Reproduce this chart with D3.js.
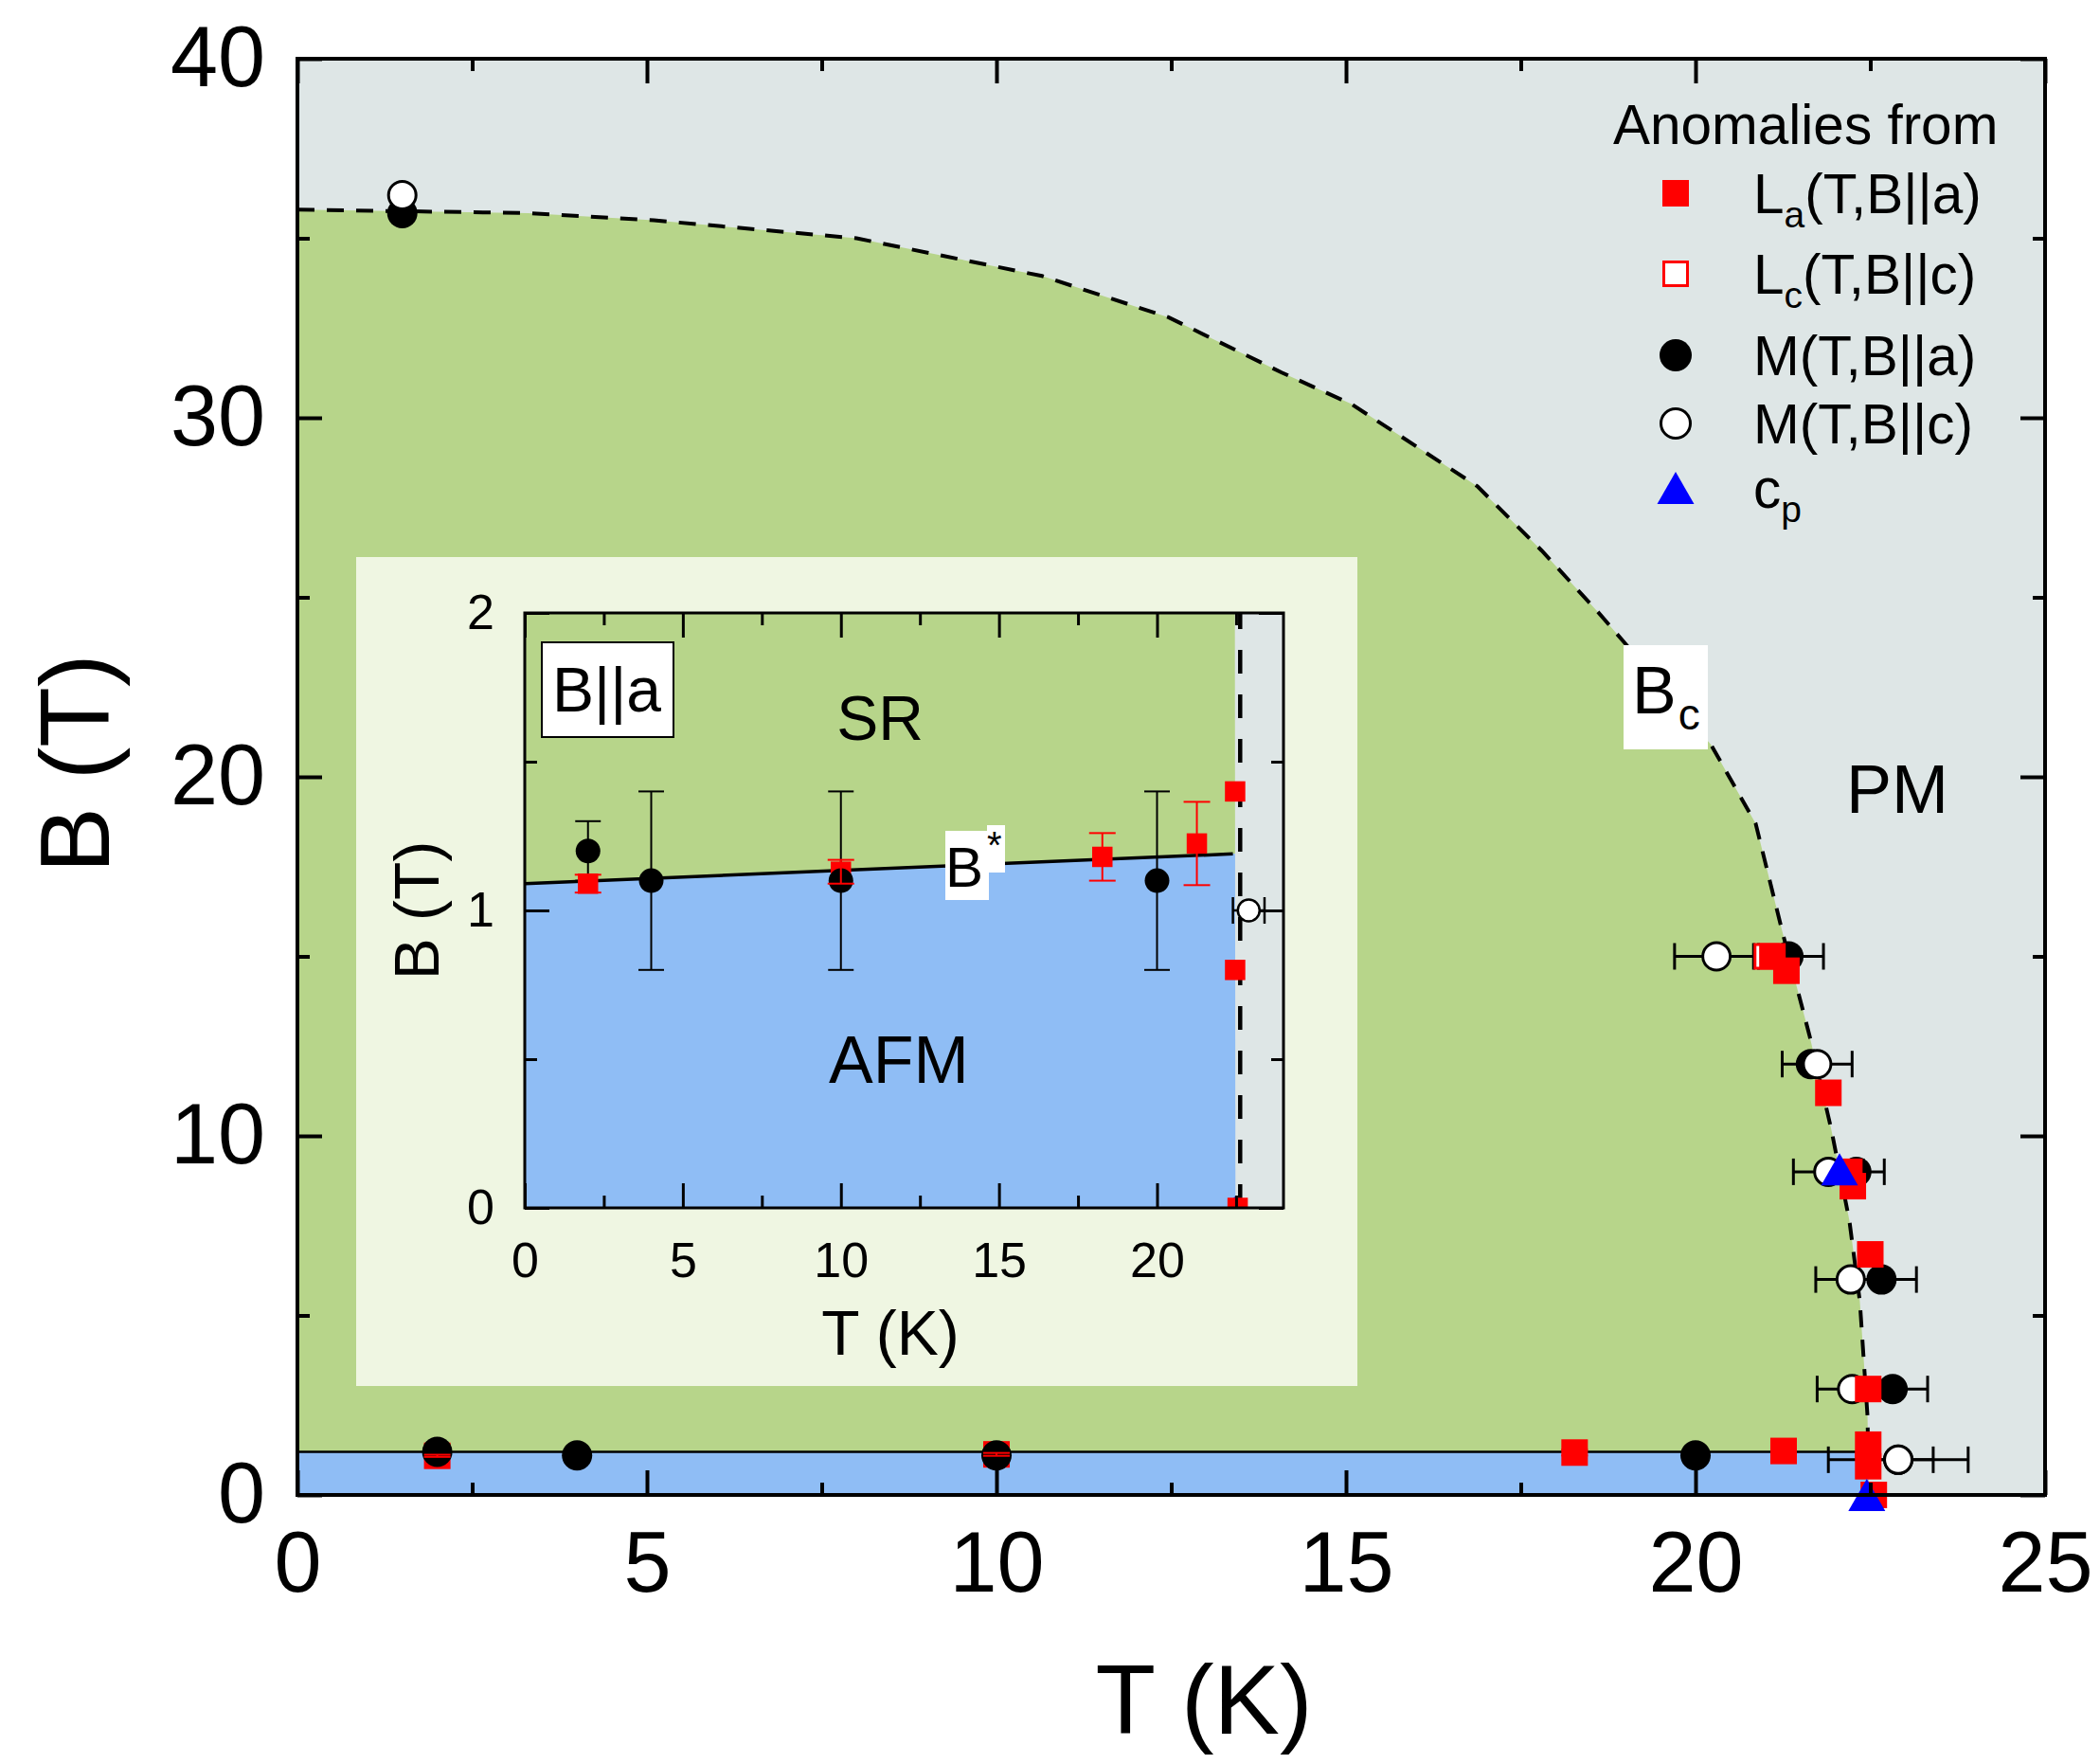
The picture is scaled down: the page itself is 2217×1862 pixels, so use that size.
<!DOCTYPE html>
<html><head><meta charset="utf-8">
<script src="https://cdn.jsdelivr.net/npm/d3@7"></script>
<style>body{margin:0;background:#fff}</style>
</head><body>
<svg id="c" width="2217" height="1862" xmlns="http://www.w3.org/2000/svg"></svg>
<script>
// ---------------- data ----------------
const bcCurve = [[0,35.8],[3.3,35.7],[5.1,35.5],[8,35.0],[10.65,33.95],[12.46,32.8],[14.08,31.26],[15.08,30.38],[16.88,28.09],[17.8,26.3],[18.6,24.6],[19.0,23.7],[20.22,20.9],[20.86,18.7],[21.24,15.7],[21.63,12.8],[21.94,10.2],[22.2,7.65],[22.35,5.4],[22.46,2.2],[22.48,0]];
const mainBstarLine = [[0,1.2],[22.45,1.2]];
const insetBstarLine = [[0,1.09],[22.4,1.19]];
const insetBcDash = [[22.63,0],[22.63,2]];
// low-field anomalies [T, B, yErr]
const lowLa = [[2,1.09,0.03],[10,1.13,0.04],[18.27,1.18,0.08],[21.26,1.225,0.14]];
const lowMa = [[2,1.2,0.1],[4,1.1,0.3],[10,1.1,0.3],[20,1.1,0.3]];
// high-field / Bc anomalies
const highLa = [[21.1,15.0],[21.3,14.6],[21.9,11.2],[22.2,9.0],[22.25,8.6],[22.5,6.7],[22.47,2.95],[22.47,1.4],[22.47,0.8],[22.55,0]];
const highLc = [[21.02,15.0]];
// [T, B, xErr]
const highMa = [[1.5,35.7,0],[21.33,15.0,0.5],[21.65,12.0,0],[22.3,9.0,0.4],[22.66,6.0,0.5],[22.82,2.95,0.5],[22.9,0.98,0.5]];
const highMc = [[1.5,36.2,0],[20.3,15.0,0.6],[21.74,12.0,0.5],[21.9,9.0,0.5],[22.22,6.0,0.5],[22.24,2.95,0.5],[22.9,0.98,1.0]];
const cpData = [[22.06,9.07],[22.45,0.0]];
const insetMc = [[22.9,1.0,0.5]];
// ticks
const mainXMajor = [0,5,10,15,20,25], mainXMinor = [2.5,7.5,12.5,17.5,22.5];
const mainYMajor = [0,10,20,30,40], mainYMinor = [5,15,25,35];
const insetXMajor = [0,5,10,15,20], insetXMinor = [2.5,7.5,12.5,17.5,22.5];
const insetYMajor = [0,1,2], insetYMinor = [0.5,1.5];
const legendItems = [
  {type:'sqFill', main:'L', sub:'a', rest:'(T,B||a)'},
  {type:'sqOpen', main:'L', sub:'c', rest:'(T,B||c)'},
  {type:'cFill', main:'M(T,B||a)', sub:'', rest:''},
  {type:'cOpen', main:'M(T,B||c)', sub:'', rest:''},
  {type:'tri', main:'c', sub:'p', rest:''}
];

// ---------------- style ----------------
const FONT = '"Liberation Sans", Arial, Helvetica, sans-serif';
const C = {grey:'#dee6e6', green:'#b7d58a', blue:'#8fbdf5', insetBg:'#eff6e2', red:'#ff0000', triBlue:'#0000ff'};

const svg = d3.select('#c');
const x = d3.scaleLinear().domain([0,25]).range([314,2159]);
const y = d3.scaleLinear().domain([0,40]).range([1578,62]);
const xi = d3.scaleLinear().domain([0,24]).range([554,1355]);
const yi = d3.scaleLinear().domain([0,2]).range([1275,647]);

function tcAt(B){
  for (let i=0;i<bcCurve.length-1;i++){
    const [t0,b0]=bcCurve[i],[t1,b1]=bcCurve[i+1];
    if (B<=b0 && B>=b1) return t0+(t1-t0)*(B-b0)/(b1-b0);
  }
  return bcCurve[bcCurve.length-1][0];
}

function marker(g, type, cx, cy, s){
  if (type==='sqFill') g.append('rect').attr('x',cx-s.sq/2).attr('y',cy-s.sq/2).attr('width',s.sq).attr('height',s.sq).attr('fill',C.red);
  else if (type==='sqOpen') g.append('rect').attr('x',cx-s.sq/2+1.5).attr('y',cy-s.sq/2+1.5).attr('width',s.sq-3).attr('height',s.sq-3).attr('fill','#fff').attr('stroke',C.red).attr('stroke-width',3);
  else if (type==='cFill') g.append('circle').attr('cx',cx).attr('cy',cy).attr('r',s.r).attr('fill','#000');
  else if (type==='cOpen') g.append('circle').attr('cx',cx).attr('cy',cy).attr('r',s.r-1.5).attr('fill','#fff').attr('stroke','#000').attr('stroke-width',s.ow);
  else if (type==='tri') g.append('path').attr('d',`M${cx},${cy-s.th/2}L${cx-s.tw/2},${cy+s.th/2}L${cx+s.tw/2},${cy+s.th/2}Z`).attr('fill',C.triBlue);
}
function xErr(g, xs, ys, d, color, capLen, w){
  if (!d[2]) return;
  const cy=ys(d[1]), a=xs(d[0]-d[2]), b=xs(d[0]+d[2]);
  g.append('line').attr('x1',a).attr('x2',b).attr('y1',cy).attr('y2',cy).attr('stroke',color).attr('stroke-width',w);
  [a,b].forEach(v=>g.append('line').attr('x1',v).attr('x2',v).attr('y1',cy-capLen/2).attr('y2',cy+capLen/2).attr('stroke',color).attr('stroke-width',w));
}
function yErr(g, xs, ys, d, color, capLen, w){
  if (!d[2]) return;
  const cx=xs(d[0]), a=ys(d[1]-d[2]), b=ys(d[1]+d[2]);
  g.append('line').attr('x1',cx).attr('x2',cx).attr('y1',a).attr('y2',b).attr('stroke',color).attr('stroke-width',w);
  [a,b].forEach(v=>g.append('line').attr('y1',v).attr('y2',v).attr('x1',cx-capLen/2).attr('x2',cx+capLen/2).attr('stroke',color).attr('stroke-width',w));
}

function axes(g, xs, ys, o){
  const [x0,x1]=xs.range(), [y0,y1]=ys.range();
  const mk=(axis,tr,vals,len,fmt)=>{
    const a=g.append('g').attr('transform',tr).call(axis.tickValues(vals).tickSizeInner(-len).tickSizeOuter(0).tickFormat(fmt));
    a.select('.domain').remove();
    a.selectAll('line').attr('stroke','#000').attr('stroke-width',o.sw);
    return a;
  };
  const none=()=> '';
  const bx=mk(d3.axisBottom(xs),`translate(0,${y0})`,o.xMajor,o.major,d3.format('d'));
  bx.selectAll('text').attr('y',o.xLabelY).attr('dy',0).attr('font-size',o.fs).attr('font-family',FONT).attr('fill','#000');
  mk(d3.axisBottom(xs),`translate(0,${y0})`,o.xMinor,o.minor,none);
  mk(d3.axisTop(xs),`translate(0,${y1})`,o.xMajor,o.major,none);
  mk(d3.axisTop(xs),`translate(0,${y1})`,o.xMinor,o.minor,none);
  const ly=mk(d3.axisLeft(ys),`translate(${x0},0)`,o.yMajor,o.major,d3.format('d'));
  ly.selectAll('text').attr('x',o.yLabelX).attr('dy','0.32em').attr('font-size',o.fs).attr('font-family',FONT).attr('fill','#000');
  mk(d3.axisLeft(ys),`translate(${x0},0)`,o.yMinor,o.minor,none);
  mk(d3.axisRight(ys),`translate(${x1},0)`,o.yMajor,o.major,none);
  mk(d3.axisRight(ys),`translate(${x1},0)`,o.yMinor,o.minor,none);
  g.append('rect').attr('x',x0).attr('y',y1).attr('width',x1-x0).attr('height',y0-y1).attr('fill','none').attr('stroke','#000').attr('stroke-width',o.fw);
}

// ---------------- main regions ----------------
const lineM = d3.line().x(d=>x(d[0])).y(d=>y(d[1]));
svg.append('rect').attr('x',x(0)).attr('y',y(40)).attr('width',x(25)-x(0)).attr('height',y(0)-y(40)).attr('fill',C.grey);
svg.append('path').attr('d',lineM([...bcCurve,[0,0]])+'Z').attr('fill',C.green);
const bEnd = mainBstarLine[mainBstarLine.length-1];
svg.append('path').attr('d',lineM([[0,0],...mainBstarLine,[tcAt(bEnd[1]),bEnd[1]],bcCurve[bcCurve.length-1]])+'Z').attr('fill',C.blue);
svg.append('path').attr('d',lineM(mainBstarLine)).attr('fill','none').attr('stroke','#000').attr('stroke-width',2.5);
svg.append('path').attr('d',lineM(bcCurve)).attr('fill','none').attr('stroke','#000').attr('stroke-width',4).attr('stroke-dasharray','18,13');

// ---------------- inset ----------------
const gi = svg.append('g');
gi.append('rect').attr('x',376).attr('y',588).attr('width',1057).attr('height',875).attr('fill',C.insetBg);
svg.append('defs').append('clipPath').attr('id','clipI').append('rect').attr('x',xi(0)).attr('y',yi(2)).attr('width',xi(24)-xi(0)).attr('height',yi(0)-yi(2));
const gic = gi.append('g').attr('clip-path','url(#clipI)');
const lineI = d3.line().x(d=>xi(d[0])).y(d=>yi(d[1]));
gic.append('rect').attr('x',xi(0)).attr('y',yi(2)).attr('width',xi(24)-xi(0)).attr('height',yi(0)-yi(2)).attr('fill',C.grey);
const ibEnd = insetBstarLine[insetBstarLine.length-1];
gic.append('path').attr('d',lineI([[0,2],[tcAt(2),2],[tcAt(ibEnd[1]),ibEnd[1]],...insetBstarLine.slice().reverse()])+'Z').attr('fill',C.green);
gic.append('path').attr('d',lineI([...insetBstarLine,[tcAt(ibEnd[1]),ibEnd[1]],[tcAt(0),0],[0,0]])+'Z').attr('fill',C.blue);
gic.append('path').attr('d',lineI(insetBstarLine)).attr('fill','none').attr('stroke','#000').attr('stroke-width',3.5);
gic.append('path').attr('d',lineI(insetBcDash)).attr('fill','none').attr('stroke','#000').attr('stroke-width',4.5).attr('stroke-dasharray','25,22');
const sI = {sq:21.5, r:13, ow:2.5, tw:28, th:24};
lowMa.forEach(d=>yErr(gic,xi,yi,d,'#000',27,2));
lowLa.forEach(d=>marker(gic,'sqFill',xi(d[0]),yi(d[1]),sI));
lowMa.forEach(d=>marker(gic,'cFill',xi(d[0]),yi(d[1]),sI));
lowLa.forEach(d=>yErr(gic,xi,yi,d,C.red,28,2));
insetMc.forEach(d=>xErr(gic,xi,yi,d,'#000',28,2.5));
insetMc.forEach(d=>marker(gic,'cOpen',xi(d[0]),yi(d[1]),sI));
cpData.filter(d=>d[1]<=2).forEach(d=>marker(gic,'tri',xi(d[0]),yi(d[1]),sI));
highLa.filter(d=>d[1]<=2).forEach(d=>marker(gic,'sqFill',xi(d[0]),yi(d[1]),sI));
// inset labels
gi.append('rect').attr('x',572).attr('y',678).attr('width',139).attr('height',100).attr('fill','#fff').attr('stroke','#000').attr('stroke-width',2);
gi.append('text').attr('x',583).attr('y',751).attr('font-size',66).attr('font-family',FONT).text('B||a');
gi.append('text').attr('x',929).attr('y',781).attr('font-size',66).attr('font-family',FONT).attr('text-anchor','middle').text('SR');
gi.append('text').attr('x',949).attr('y',1143).attr('font-size',70).attr('font-family',FONT).attr('text-anchor','middle').text('AFM');
gi.append('rect').attr('x',998).attr('y',877).attr('width',46).attr('height',73).attr('fill','#fff');
gi.append('rect').attr('x',1042).attr('y',871).attr('width',19).attr('height',50).attr('fill','#fff');
gi.append('text').attr('x',998).attr('y',936).attr('font-size',60).attr('font-family',FONT).text('B');
gi.append('text').attr('x',1042).attr('y',906).attr('font-size',40).attr('font-family',FONT).text('*');
axes(gi, xi, yi, {xMajor:insetXMajor,xMinor:insetXMinor,yMajor:insetYMajor,yMinor:insetYMinor,major:26,minor:13,sw:3,fw:3,fs:52,xLabelY:73,yLabelX:-32});
gi.append('text').attr('x',940).attr('y',1430).attr('font-size',66).attr('font-family',FONT).attr('text-anchor','middle').text('T (K)');
gi.append('text').attr('transform','translate(463,961) rotate(-90)').attr('font-size',66).attr('font-family',FONT).attr('text-anchor','middle').text('B (T)');

// ---------------- main markers ----------------
const gm = svg.append('g');
const sM = {sq:28, r:16, ow:3, tw:39, th:34};
highMa.forEach(d=>xErr(gm,x,y,d,'#000',28,3));
highMc.forEach(d=>xErr(gm,x,y,d,'#000',28,3));
lowLa.forEach(d=>marker(gm,'sqFill',x(d[0]),y(d[1]),sM));
lowMa.forEach(d=>marker(gm,'cFill',x(d[0]),y(d[1]),sM));
lowLa.forEach(d=>yErr(gm,x,y,d,C.red,28,2));
highMa.forEach(d=>marker(gm,'cFill',x(d[0]),y(d[1]),sM));
highMc.forEach(d=>marker(gm,'cOpen',x(d[0]),y(d[1]),sM));
highLc.forEach(d=>marker(gm,'sqOpen',x(d[0]),y(d[1]),sM));
highLa.forEach(d=>marker(gm,'sqFill',x(d[0]),y(d[1]),sM));
cpData.forEach(d=>marker(gm,'tri',x(d[0]),y(d[1]),sM));

// Bc / PM labels
svg.append('rect').attr('x',1714).attr('y',681).attr('width',89).attr('height',110).attr('fill','#fff');
const bc = svg.append('text').attr('x',1723).attr('y',753).attr('font-size',70).attr('font-family',FONT);
bc.append('tspan').text('B');
bc.append('tspan').attr('font-size',46).attr('dy',17).attr('dx',2).text('c');
svg.append('text').attr('x',1949).attr('y',858).attr('font-size',72).attr('font-family',FONT).text('PM');

// legend
const gl = svg.append('g');
gl.append('text').attr('x',1703).attr('y',152).attr('font-size',58.5).attr('font-family',FONT).text('Anomalies from');
const rowY = [204,289,375,447,515];
legendItems.forEach((it,i)=>{
  const cy = rowY[i];
  marker(gl,it.type,1769,cy,{sq:28,r:17,ow:3,tw:39,th:34});
  const t = gl.append('text').attr('x',1851).attr('y',cy+21).attr('font-size',58.5).attr('font-family',FONT);
  t.append('tspan').text(it.main);
  if (it.sub){
    t.append('tspan').attr('font-size',39).attr('dy',15).text(it.sub);
    if (it.rest) t.append('tspan').attr('dy',-15).text(it.rest);
  } else if (it.rest) t.append('tspan').text(it.rest);
});

// main axes
axes(svg.append('g'), x, y, {xMajor:mainXMajor,xMinor:mainXMinor,yMajor:mainYMajor,yMinor:mainYMinor,major:26,minor:13,sw:4,fw:4,fs:90,xLabelY:102,yLabelX:-34});
svg.append('text').attr('x',1271).attr('y',1830).attr('font-size',104).attr('font-family',FONT).attr('text-anchor','middle').text('T (K)');
svg.append('text').attr('transform','translate(115,806) rotate(-90)').attr('font-size',104).attr('font-family',FONT).attr('text-anchor','middle').text('B (T)');
</script>
</body></html>
